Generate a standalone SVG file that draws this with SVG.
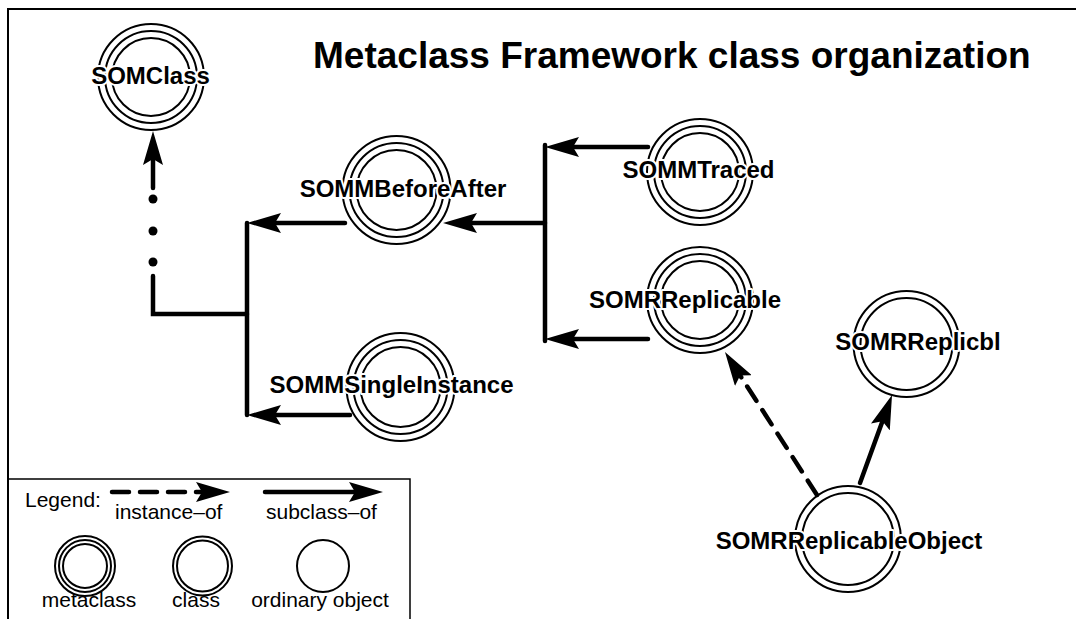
<svg xmlns="http://www.w3.org/2000/svg" width="1076" height="619" viewBox="0 0 1076 619">
  <style>
    .ring { fill: none; stroke: #000; stroke-width: 2; }
    .label { font-family: "Liberation Sans", Arial, sans-serif; font-weight: bold; font-size: 24px; text-anchor: middle; fill: #000; stroke: #fff; stroke-width: 4; paint-order: stroke; stroke-linejoin: round; }
    .title { font-family: "Liberation Sans", Arial, sans-serif; font-weight: bold; font-size: 37px; fill: #000; }
    .legtext { font-family: "Liberation Sans", Arial, sans-serif; font-size: 21px; fill: #000; }
    .link { fill: none; stroke: #000; stroke-width: 4.5; stroke-linecap: round; stroke-linejoin: miter; }
    .arrow { marker-end: url(#head); }
    .dash { stroke-dasharray: 17 11; }
    .frame { fill: none; stroke: #000; stroke-width: 2; }
  </style>
  <defs>
    <marker id="head" viewBox="0 0 34 20" refX="19" refY="10" markerWidth="34" markerHeight="20" markerUnits="userSpaceOnUse" orient="auto">
      <path d="M0,0 L34,10 L0,20 L6,10 Z" fill="#000"/>
    </marker>
  </defs>

  <rect x="0" y="0" width="1076" height="619" fill="#fff"/>

  <!-- outer frame (open at right and bottom) -->
  <path class="frame" d="M8,619 V9 H1076"/>

  <text class="title" x="313" y="68">Metaclass Framework class organization</text>

  <!-- connectors -->
  <g id="connectors">
    <!-- instance chain up to SOMClass -->
    <path class="link" d="M247,314 H153 V276"/>
    <circle cx="153" cy="262" r="4.5" fill="#000"/>
    <circle cx="153" cy="231" r="4.5" fill="#000"/>
    <circle cx="153" cy="199" r="4.5" fill="#000"/>
    <line class="link arrow" x1="153" y1="188" x2="153" y2="146"/>

    <!-- left subclass bus -->
    <line class="link" x1="247" y1="223" x2="247" y2="415"/>
    <line class="link arrow" x1="345" y1="223" x2="262" y2="223"/>
    <line class="link arrow" x1="350" y1="415" x2="262" y2="415"/>

    <!-- right subclass bus -->
    <line class="link" x1="545" y1="145" x2="545" y2="341"/>
    <line class="link arrow" x1="648" y1="147" x2="560" y2="147"/>
    <line class="link arrow" x1="648" y1="339" x2="560" y2="339"/>
    <line class="link arrow" x1="545" y1="223" x2="458" y2="223"/>

    <!-- replicable object links -->
    <line class="link dash arrow" x1="817" y1="495" x2="733.1" y2="364.6"/>
    <line class="link arrow" x1="860" y1="483" x2="886.9" y2="409.1"/>
  </g>

  <!-- nodes -->
  <g id="SOMClass">
    <circle class="ring" cx="151" cy="77" r="53"/>
    <circle class="ring" cx="151" cy="77" r="46"/>
    <circle class="ring" cx="151" cy="77" r="39"/>
    <text class="label" x="150.5" y="84">SOMClass</text>
  </g>
  <g id="SOMMBeforeAfter">
    <circle class="ring" cx="396.5" cy="190" r="54"/>
    <circle class="ring" cx="396.5" cy="190" r="47"/>
    <circle class="ring" cx="396.5" cy="190" r="40"/>
    <text class="label" x="403" y="197">SOMMBeforeAfter</text>
  </g>
  <g id="SOMMSingleInstance">
    <circle class="ring" cx="400.5" cy="387" r="54"/>
    <circle class="ring" cx="400.5" cy="387" r="47"/>
    <circle class="ring" cx="400.5" cy="387" r="40"/>
    <text class="label" x="391.5" y="393">SOMMSingleInstance</text>
  </g>
  <g id="SOMMTraced">
    <circle class="ring" cx="700" cy="172" r="53"/>
    <circle class="ring" cx="700" cy="172" r="46"/>
    <circle class="ring" cx="700" cy="172" r="39"/>
    <text class="label" x="698.5" y="178">SOMMTraced</text>
  </g>
  <g id="SOMRReplicable">
    <circle class="ring" cx="700" cy="300" r="53"/>
    <circle class="ring" cx="700" cy="300" r="46"/>
    <circle class="ring" cx="700" cy="300" r="39"/>
    <text class="label" x="685" y="308">SOMRReplicable</text>
  </g>
  <g id="SOMRReplicbl">
    <circle class="ring" cx="906.5" cy="344" r="53"/>
    <circle class="ring" cx="906.5" cy="344" r="46"/>
    <text class="label" x="918" y="350">SOMRReplicbl</text>
  </g>
  <g id="SOMRReplicableObject">
    <circle class="ring" cx="848" cy="539" r="53"/>
    <circle class="ring" cx="848" cy="539" r="46"/>
    <text class="label" x="849" y="549">SOMRReplicableObject</text>
  </g>

  <!-- legend -->
  <g id="legend">
    <path d="M8,479 H410 V619" fill="none" stroke="#000" stroke-width="1.5"/>
    <text class="legtext" x="25" y="507">Legend:</text>
    <line class="link dash arrow" x1="112" y1="492" x2="215" y2="492"/>
    <line class="link arrow" x1="265" y1="492" x2="368" y2="492"/>
    <text class="legtext" x="115" y="519">instance–of</text>
    <text class="legtext" x="266" y="519">subclass–of</text>
    <circle class="ring" cx="85" cy="566" r="30"/>
    <circle class="ring" cx="85" cy="566" r="26"/>
    <circle class="ring" cx="85" cy="566" r="22"/>
    <circle class="ring" cx="202.5" cy="566" r="29.5"/>
    <circle class="ring" cx="202.5" cy="566" r="25.5"/>
    <circle class="ring" cx="323" cy="566" r="26"/>
    <text class="legtext" x="89" y="607" text-anchor="middle">metaclass</text>
    <text class="legtext" x="196" y="607" text-anchor="middle">class</text>
    <text class="legtext" x="320" y="607" text-anchor="middle">ordinary object</text>
  </g>
</svg>
